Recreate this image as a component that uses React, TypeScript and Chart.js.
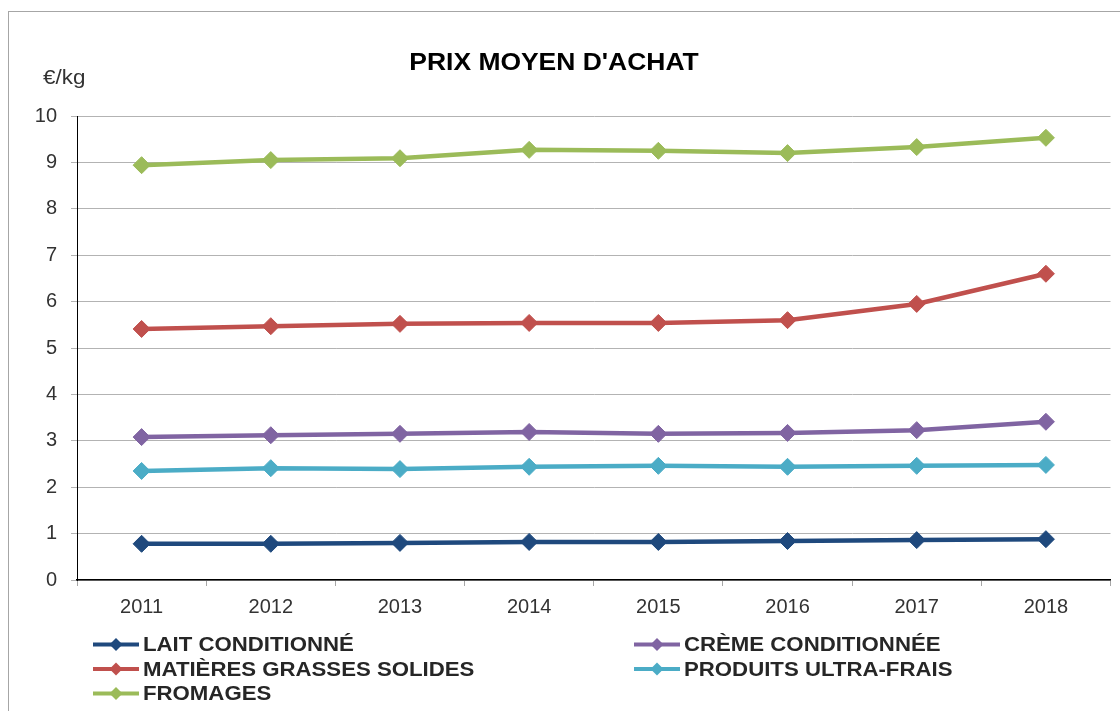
import React, { useEffect, useRef } from "react";
import { Chart, registerables } from "chart.js";

Chart.register(...registerables);

const years = ["2011", "2012", "2013", "2014", "2015", "2016", "2017", "2018"];

const laitConditionne = [0.78, 0.78, 0.8, 0.82, 0.82, 0.84, 0.86, 0.88];
const cremeConditionnee = [3.08, 3.12, 3.15, 3.19, 3.15, 3.17, 3.23, 3.41];
const matieresGrasses = [5.41, 5.47, 5.52, 5.54, 5.54, 5.6, 5.95, 6.6];
const ultraFrais = [2.35, 2.41, 2.39, 2.44, 2.46, 2.44, 2.46, 2.48];
const fromages = [8.94, 9.05, 9.09, 9.27, 9.25, 9.2, 9.33, 9.53];

const seriesLabels = [
  "LAIT CONDITIONNÉ",
  "CRÈME CONDITIONNÉE",
  "MATIÈRES GRASSES SOLIDES",
  "PRODUITS ULTRA-FRAIS",
  "FROMAGES",
];
const seriesColors = ["#1F497D", "#8064A2", "#C0504D", "#4BACC6", "#9BBB59"];

const chartTitle = "PRIX MOYEN D'ACHAT";
const unitLabel = "€/kg";
const yMin = 0;
const yMax = 10;
const yStep = 1;

const FONT = "Arial, 'Liberation Sans', sans-serif";

function stretchedText(
  ctx: CanvasRenderingContext2D,
  text: string,
  x: number,
  y: number,
  font: string,
  color: string,
  sx: number,
  align: CanvasTextAlign
) {
  ctx.save();
  ctx.font = font;
  ctx.fillStyle = color;
  ctx.textBaseline = "middle";
  ctx.textAlign = align;
  ctx.translate(x, y);
  ctx.scale(sx, 1);
  ctx.fillText(text, 0, 0);
  ctx.restore();
}

function diamond(ctx: CanvasRenderingContext2D, x: number, y: number, r: number) {
  ctx.beginPath();
  ctx.moveTo(x, y - r);
  ctx.lineTo(x + r, y);
  ctx.lineTo(x, y + r);
  ctx.lineTo(x - r, y);
  ctx.closePath();
  ctx.fill();
}

const decorPlugin = {
  id: "decor",
  beforeDraw(chart: any) {
    const ctx = chart.ctx as CanvasRenderingContext2D;
    ctx.save();
    ctx.strokeStyle = "#A6A6A6";
    ctx.lineWidth = 1;
    ctx.strokeRect(8.5, 11.5, 1300, 900);
    ctx.restore();
  },
  afterDraw(chart: any) {
    const ctx = chart.ctx as CanvasRenderingContext2D;
    stretchedText(ctx, chartTitle, 554, 64, `bold 23px ${FONT}`, "#000000", 1.15, "center");
    stretchedText(ctx, unitLabel, 43, 78, `20px ${FONT}`, "#333333", 1.12, "left");

    chart.data.datasets.forEach((ds: any, i: number) => {
      const col = i % 2;
      const row = Math.floor(i / 2);
      const x0 = col === 0 ? 93 : 634;
      const y = 644.5 + row * 24.5;
      ctx.save();
      ctx.strokeStyle = ds.borderColor;
      ctx.fillStyle = ds.borderColor;
      ctx.lineWidth = 4;
      ctx.beginPath();
      ctx.moveTo(x0, y);
      ctx.lineTo(x0 + 46, y);
      ctx.stroke();
      diamond(ctx, x0 + 23, y, 6.5);
      ctx.restore();
      stretchedText(ctx, ds.label, x0 + 50, y + 1, `bold 20px ${FONT}`, "#262626", 1.11, "left");
    });
  },
};

const seriesData = [laitConditionne, cremeConditionnee, matieresGrasses, ultraFrais, fromages];

export default function App() {
  const canvasRef = useRef<HTMLCanvasElement | null>(null);

  useEffect(() => {
    const canvas = canvasRef.current;
    if (!canvas) return;
    const chart = new Chart(canvas, {
      type: "line",
      data: {
        labels: years,
        datasets: seriesData.map((d, i) => ({
          label: seriesLabels[i],
          data: d,
          borderColor: seriesColors[i],
          backgroundColor: seriesColors[i],
          borderWidth: 4.5,
          pointStyle: "rectRot",
          pointRadius: 8.5,
          pointBorderWidth: 1,
          pointBackgroundColor: seriesColors[i],
          pointBorderColor: seriesColors[i],
          tension: 0,
          fill: false,
        })),
      },
      options: {
        responsive: false,
        maintainAspectRatio: false,
        animation: false,
        devicePixelRatio: 1,
        layout: { padding: { top: 116, right: 6, left: 0, bottom: 0 } },
        plugins: {
          legend: { display: false },
          title: { display: false },
          tooltip: { enabled: false },
        },
        scales: {
          x: {
            offset: true,
            grid: {
              offset: true,
              drawOnChartArea: false,
              drawTicks: true,
              tickLength: 6,
              color: "#A6A6A6",
            },
            border: { color: "#000000", width: 1.5 },
            ticks: {
              color: "#333333",
              font: { family: FONT, size: 20 },
              padding: 9,
              maxRotation: 0,
            },
            afterFit: (scale: any) => {
              scale.height = 131;
            },
          },
          y: {
            min: yMin,
            max: yMax,
            ticks: {
              stepSize: yStep,
              color: "#333333",
              font: { family: FONT, size: 20 },
              padding: 14,
            },
            grid: {
              color: "#B3B3B3",
              lineWidth: 1,
              drawTicks: true,
              tickLength: 6,
            },
            border: { color: "#000000", width: 1 },
            afterFit: (scale: any) => {
              scale.width = 77;
            },
          },
        },
      },
      plugins: [decorPlugin],
    });
    return () => chart.destroy();
  }, []);

  return (
    <div style={{ position: "absolute", left: 0, top: 0, width: 1120, height: 711, background: "#fff" }}>
      <canvas ref={canvasRef} width={1120} height={711} style={{ display: "block" }} />
    </div>
  );
}
